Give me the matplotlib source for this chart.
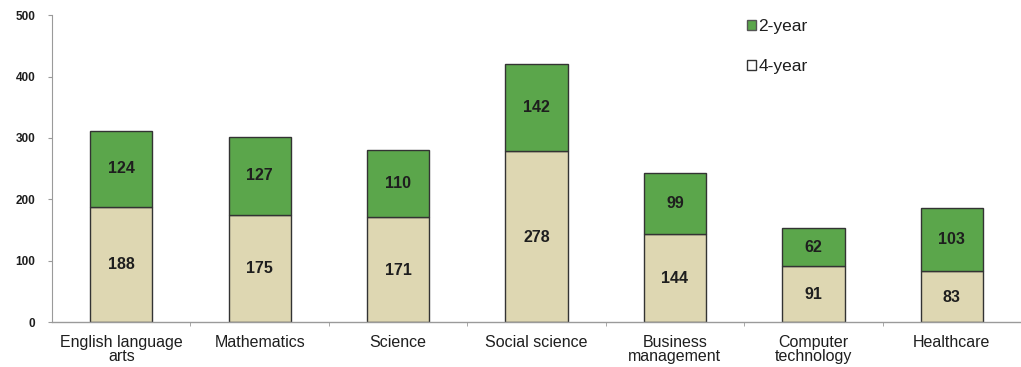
import matplotlib.pyplot as plt
import numpy as np
from matplotlib.patches import Patch

plt.rcParams['font.family'] = ['Liberation Sans', 'DejaVu Sans']

categories = ["English language\narts", "Mathematics", "Science", "Social science",
              "Business\nmanagement", "Computer\ntechnology", "Healthcare"]
four_year = [188, 175, 171, 278, 144, 91, 83]
two_year = [124, 127, 110, 142, 99, 62, 103]

green = "#5ba64b"
beige = "#ded7b2"
axis_col = "#9a9a9a"
text_col = "#1e1e1e"

fig = plt.figure(figsize=(10.21, 3.67), dpi=100)
ax = fig.add_axes([0.051, 0.1226, 0.949, 0.836])

x = np.arange(len(categories))
w = 0.45
ax.bar(x, four_year, w, color=beige, edgecolor="#333333", linewidth=1.0)
ax.bar(x, two_year, w, bottom=four_year, color=green, edgecolor="#333333", linewidth=1.0)

# segment values written inside each block
for i in range(len(categories)):
    ax.text(x[i], four_year[i] / 2 - 1, str(four_year[i]), ha="center", va="center",
            fontsize=11.5, fontweight="bold", color=text_col)
    ax.text(x[i], four_year[i] + two_year[i] / 2, str(two_year[i]), ha="center", va="center",
            fontsize=11.5, fontweight="bold", color=text_col)

ax.set_xlim(-0.5, len(categories) - 0.5)
ax.set_ylim(0, 500)
ax.set_yticks(range(0, 501, 100))
ax.tick_params(axis="y", labelsize=8.5, length=3, color=axis_col, pad=9, labelcolor=text_col)
for t in ax.get_yticklabels():
    t.set_fontweight("bold")

ax.set_xticks(x)
ax.set_xticklabels(categories, fontsize=11.5, linespacing=0.95, color=text_col)
ax.tick_params(axis="x", length=0, pad=9)
ax.set_xticks(np.arange(0.5, len(categories) - 0.5, 1), minor=True)
ax.tick_params(axis="x", which="minor", length=3, color=axis_col)

for s in ["top", "right"]:
    ax.spines[s].set_visible(False)
ax.spines["left"].set_color(axis_col)
ax.spines["bottom"].set_color(axis_col)
ax.spines["left"].set_linewidth(0.8)
ax.spines["bottom"].set_linewidth(1.0)

handles = [Patch(facecolor=green, edgecolor="#555555", label="2-year"),
           Patch(facecolor="white", edgecolor="#333333", label="4-year")]
ax.legend(handles=handles, loc="upper left", bbox_to_anchor=(0.710, 1.01), frameon=False,
          fontsize=12.5, handlelength=0.5, handleheight=0.5, handletextpad=0.15,
          labelspacing=1.45, borderaxespad=0.0, labelcolor=text_col)

fig.savefig("out.png", dpi=100)
